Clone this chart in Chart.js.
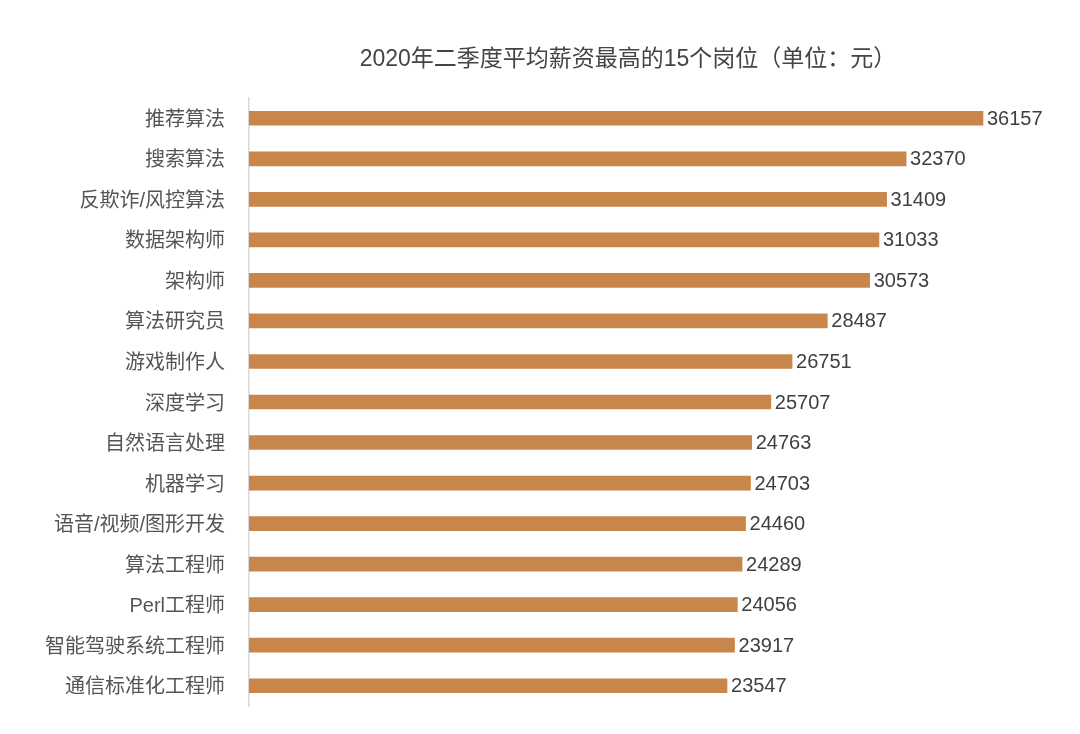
<!DOCTYPE html>
<html>
<head>
<meta charset="utf-8">
<script src="https://cdn.jsdelivr.net/npm/chart.js@4/dist/chart.umd.min.js"></script>
<style>
  html, body { margin: 0; padding: 0; background: #fff; }
  #wrap { position: relative; width: 1080px; height: 734px; }
  #title {
    position: absolute; top: 39px; left: 628px; transform: translateX(-50%);
    font-family: "Liberation Sans", "Noto Sans CJK SC", sans-serif; font-size: 23px;
    color: #444; white-space: nowrap;
  }
</style>
</head>
<body>
<div id="wrap">
  <canvas id="c" width="1080" height="734"></canvas>
  <div id="title">2020年二季度平均薪资最高的15个岗位（单位：元）</div>
</div>
<script>
const jobs = ['推荐算法', '搜索算法', '反欺诈/风控算法', '数据架构师', '架构师', '算法研究员', '游戏制作人',
  '深度学习', '自然语言处理', '机器学习', '语音/视频/图形开发', '算法工程师', 'Perl工程师',
  '智能驾驶系统工程师', '通信标准化工程师'];
const salary = [36157, 32370, 31409, 31033, 30573, 28487, 26751, 25707, 24763, 24703, 24460, 24289, 24056, 23917, 23547];

const FONT = '"Liberation Sans", "Noto Sans CJK SC", sans-serif';

// value labels at bar ends
const valueLabels = {
  id: 'valueLabels',
  afterDatasetsDraw(chart) {
    const ctx = chart.ctx;
    const meta = chart.getDatasetMeta(0);
    ctx.save();
    ctx.font = '20px ' + FONT;
    ctx.fillStyle = '#404040';
    ctx.textAlign = 'left';
    ctx.textBaseline = 'middle';
    meta.data.forEach((bar, i) => {
      ctx.fillText(salary[i], bar.x + 4, bar.y + 1);
    });
    ctx.restore();
  }
};

new Chart(document.getElementById('c'), {
  type: 'bar',
  data: {
    labels: jobs,
    datasets: [{ data: salary, backgroundColor: '#C8864A', barThickness: 14 }]
  },
  options: {
    indexAxis: 'y',
    responsive: false,
    animation: false,
    layout: { padding: { top: 98, bottom: 28, right: 19, left: 0 } },
    scales: {
      x: { min: 0, max: 40000, display: false },
      y: {
        afterFit(scale) { scale.width = 249; scale.paddingTop = 0; scale.paddingBottom = 0; },
        grid: { display: false, drawTicks: false },
        border: { display: true, color: '#d9d9d9', width: 1.5 },
        ticks: { padding: 24, labelOffset: 2, color: '#555', font: { family: FONT, size: 20 } }
      }
    },
    plugins: { legend: { display: false }, tooltip: { enabled: false } }
  },
  plugins: [valueLabels]
});
</script>
</body>
</html>
